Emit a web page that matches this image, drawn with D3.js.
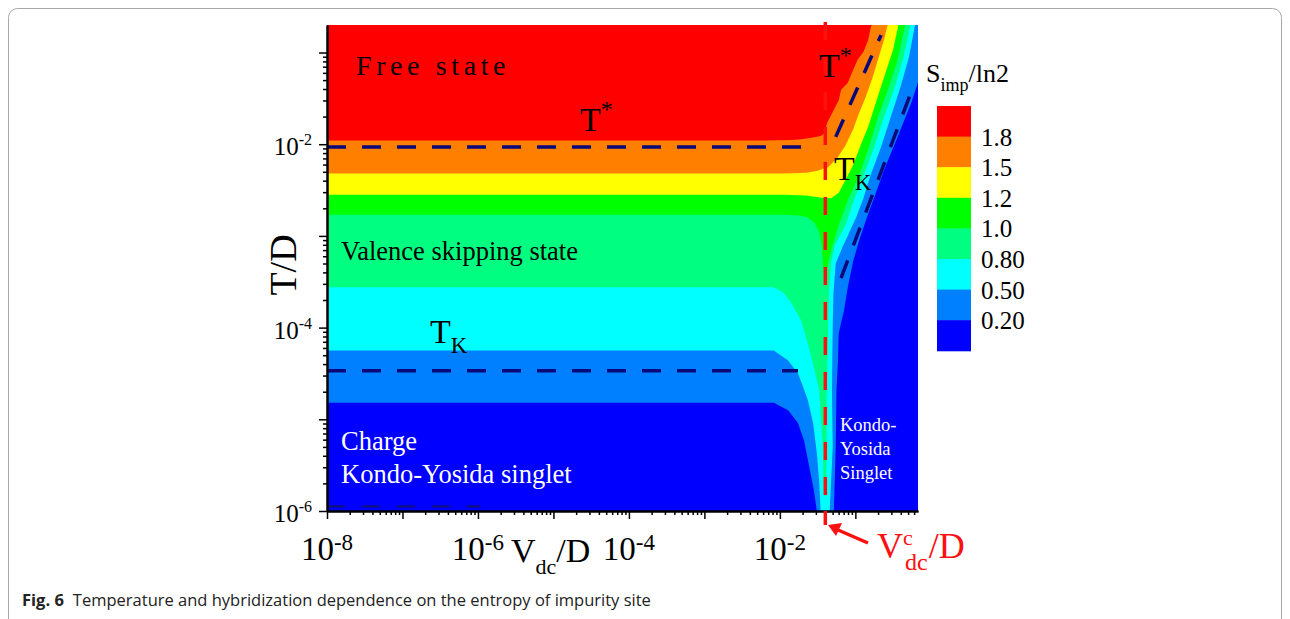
<!DOCTYPE html>
<html>
<head>
<meta charset="utf-8">
<script src="https://cdn.jsdelivr.net/npm/d3@7"></script>
<style>
  body { margin: 0; background: #fff; }
  svg { display: block; }
  .serif { font-family: "Liberation Serif", "Times New Roman", serif; }
</style>
</head>
<body>
<svg id="chart" width="1290" height="619"></svg>
<script>
// Impurity entropy S_imp/ln2 over the (V_dc/D, T/D) plane.
// Every contour is a list of [log10(V_dc/D), log10(T/D)] points; the region
// below / right of a contour has an entropy lower than its level.
const levels = [1.8, 1.5, 1.2, 1.0, 0.80, 0.50, 0.20];
const levelLabels = ["1.8", "1.5", "1.2", "1.0", "0.80", "0.50", "0.20"];
const bandColors = ["#ff0000", "#ff8000", "#ffff00", "#00ff00", "#00ff80", "#00ffff", "#0080ff", "#0000ff"];

const contour18 = [[-8.00,-1.96],[-2.20,-1.96],[-1.85,-1.955],[-1.72,-1.945],[-1.58,-1.93],[-1.46,-1.91],[-1.42,-1.89],[-1.37,-1.76],
  [-1.30,-1.65],[-1.22,-1.52],[-1.19,-1.41],[-1.10,-1.33],[-1.03,-1.19],[-0.97,-1.08],[-0.89,-0.99],[-0.83,-0.86],[-0.80,-0.74],[-0.77,-0.66]];
const contour15 = [[-8.00,-2.32],[-1.95,-2.32],[-1.65,-2.31],[-1.50,-2.29],[-1.42,-2.265],[-1.36,-2.25],[-1.30,-2.20],[-1.23,-2.14],
  [-1.13,-2.01],[-1.03,-1.84],[-0.95,-1.66],[-0.86,-1.48],[-0.77,-1.27],[-0.69,-1.05],[-0.62,-0.86],[-0.56,-0.66]];
const contour12 = [[-8.00,-2.55],[-1.95,-2.55],[-1.65,-2.56],[-1.45,-2.585],[-1.32,-2.59],[-1.22,-2.53],[-1.13,-2.39],[-1.03,-2.23],
  [-0.93,-2.01],[-0.83,-1.81],[-0.73,-1.55],[-0.62,-1.27],[-0.50,-0.97],[-0.42,-0.66]];
const contour10 = [[-8.00,-2.77],[-1.90,-2.77],[-1.72,-2.78],[-1.63,-2.80],[-1.54,-2.86],[-1.48,-2.96],[-1.445,-3.10],[-1.43,-3.30],
  [-1.41,-3.45],[-1.40,-3.50],[-1.38,-3.40],[-1.36,-3.29],[-1.30,-3.10],[-1.22,-2.88],[-1.10,-2.61],[-0.95,-2.34],[-0.82,-2.03],
  [-0.70,-1.70],[-0.57,-1.41],[-0.44,-1.08],[-0.33,-0.66]];
const contour08 = [[-8.00,-3.56],[-2.08,-3.56],[-1.95,-3.62],[-1.85,-3.73],[-1.72,-3.92],[-1.63,-4.17],[-1.55,-4.43],[-1.48,-4.68],
  [-1.46,-4.93],[-1.43,-5.30],[-1.42,-5.77],[-1.40,-5.85],[-1.39,-5.77],[-1.38,-5.30],[-1.38,-4.68],[-1.36,-3.99],[-1.35,-3.62],
  [-1.32,-3.28],[-1.27,-3.10],[-1.13,-2.88],[-1.02,-2.61],[-0.89,-2.34],[-0.75,-2.03],[-0.62,-1.70],[-0.49,-1.41],[-0.36,-1.05],[-0.26,-0.66]];
const contour05 = [[-8.00,-4.25],[-2.08,-4.25],[-1.89,-4.36],[-1.76,-4.50],[-1.70,-4.63],[-1.63,-4.79],[-1.56,-5.04],[-1.51,-5.37],
  [-1.48,-5.67],[-1.46,-6.00],[-1.34,-6.00],[-1.30,-5.30],[-1.31,-4.68],[-1.30,-3.99],[-1.29,-3.62],[-1.26,-3.30],[-1.17,-3.12],
  [-1.09,-2.98],[-0.99,-2.80],[-0.89,-2.58],[-0.80,-2.34],[-0.66,-2.03],[-0.53,-1.70],[-0.40,-1.37],[-0.29,-1.05],[-0.20,-0.66]];
const contour02 = [[-8.00,-4.82],[-2.08,-4.82],[-1.89,-4.90],[-1.76,-5.04],[-1.68,-5.23],[-1.62,-5.48],[-1.55,-5.77],[-1.51,-6.00],
  [-1.285,-6.00],[-1.26,-5.30],[-1.25,-4.68],[-1.23,-4.36],[-1.22,-4.06],[-1.15,-3.81],[-1.10,-3.56],[-1.03,-3.28],[-0.95,-3.05],
  [-0.86,-2.83],[-0.75,-2.58],[-0.62,-2.28],[-0.40,-1.84],[-0.26,-1.55],[-0.16,-1.30]];
const contours = [contour18, contour15, contour12, contour10, contour08, contour05, contour02];

// Crossover scales T* and T_K, and the critical bias V^c_dc/D
const tStarFlat = [[-8.00,-2.03],[-1.60,-2.03]];
const tStarRise = [[-1.26,-1.92],[-0.66,-0.81]];
const tKondoFlat = [[-8.00,-4.47],[-1.76,-4.47]];
const tKondoRise = [[-1.19,-3.46],[-0.26,-1.43]];
const lowEdge = [[-8.00,-5.95],[-5.97,-5.95]];
const vCritical = 0.04;

// Axis extents and tick labels
const vRange = [1e-8, Math.pow(10, -0.17)];
const tRange = [1e-6, Math.pow(10, -0.70)];
const xLabelExps = [-8, -6, -4, -2];
const yLabelExps = [-6, -4, -2];

const svg = d3.select("#chart");
const L = 327, R = 918, T = 25, B = 511;
const x = d3.scaleLog().domain(vRange).range([L, R]);
const y = d3.scaleLog().domain(tRange).range([B, T]);
const px = p => [x(Math.pow(10, p[0])), y(Math.pow(10, p[1]))];
const line = d3.line().x(p => px(p)[0]).y(p => px(p)[1]);
const xMaxLog = Math.log10(vRange[1]);
const yMinLog = Math.log10(tRange[0]);

// outer frame
svg.append("rect").attr("x", 8.5).attr("y", 8.5).attr("width", 1273).attr("height", 620)
  .attr("rx", 9).attr("fill", "none").attr("stroke", "#a8a8a8").attr("stroke-width", 1);

svg.append("clipPath").attr("id", "plotClip")
  .append("rect").attr("x", L).attr("y", T).attr("width", R - L).attr("height", B - T);

const plot = svg.append("g").attr("clip-path", "url(#plotClip)");
plot.append("rect").attr("x", L).attr("y", T).attr("width", R - L).attr("height", B - T).attr("fill", bandColors[0]);

contours.forEach((c, i) => {
  const last = c[c.length - 1];
  const poly = [[-8.2, yMinLog - 0.1], ...c, [xMaxLog + 0.1, last[1]], [xMaxLog + 0.1, yMinLog - 0.1]];
  plot.append("path").attr("d", line(poly) + "Z").attr("fill", bandColors[i + 1]);
});

// dashed crossover lines
[tStarFlat, tStarRise, tKondoFlat, tKondoRise].forEach(d => {
  svg.append("path").attr("d", line(d)).attr("fill", "none")
    .attr("stroke", "#08087a").attr("stroke-width", 3.5).attr("stroke-dasharray", "19,16");
});
svg.append("path").attr("d", line(lowEdge)).attr("fill", "none")
  .attr("stroke", "#101080").attr("stroke-width", 2.2).attr("stroke-dasharray", "18,17");

// critical bias marker
const xc = x(vCritical);
svg.append("line").attr("x1", xc).attr("x2", xc).attr("y1", 22).attr("y2", B)
  .attr("stroke", "#ff1010").attr("stroke-width", 3.5).attr("stroke-dasharray", "18,17");

// axes
function decadeTicks(lo, hi) {
  const major = [], minor = [];
  for (let e = Math.floor(Math.log10(lo)); e <= Math.ceil(Math.log10(hi)); e++) {
    for (let m = 1; m < 10; m++) {
      const v = m * Math.pow(10, e);
      if (v < lo * 0.999 || v > hi * 1.001) continue;
      (m === 1 ? major : minor).push(v);
    }
  }
  return { major, minor };
}
const xt = decadeTicks(vRange[0], vRange[1]);
const yt = decadeTicks(tRange[0], tRange[1]);

function styleAxis(g) {
  g.selectAll("text").remove();
  g.select(".domain").attr("stroke", "#000").attr("stroke-width", 2);
  g.selectAll(".tick line").attr("stroke", "#000").attr("stroke-width", 1.5);
}
svg.append("g").attr("transform", `translate(0,${B})`)
  .call(d3.axisBottom(x).tickValues(xt.minor).tickSize(4).tickSizeOuter(0)).call(styleAxis);
svg.append("g").attr("transform", `translate(0,${B})`)
  .call(d3.axisBottom(x).tickValues(xt.major).tickSize(8).tickSizeOuter(0)).call(styleAxis);
svg.append("g").attr("transform", `translate(${L},0)`)
  .call(d3.axisLeft(y).tickValues(yt.minor).tickSize(4).tickSizeOuter(0)).call(styleAxis);
svg.append("g").attr("transform", `translate(${L},0)`)
  .call(d3.axisLeft(y).tickValues(yt.major).tickSize(8).tickSizeOuter(0)).call(styleAxis);

// tick labels as powers of ten
xLabelExps.forEach(e => {
  const t = svg.append("text").attr("class", "serif").attr("x", x(Math.pow(10, e))).attr("y", 560)
    .attr("text-anchor", "middle").attr("font-size", 33).attr("fill", "#000");
  t.append("tspan").text("10");
  t.append("tspan").attr("font-size", 23).attr("dy", -10).text("-" + Math.abs(e));
});
yLabelExps.forEach(e => {
  const t = svg.append("text").attr("class", "serif").attr("x", 312).attr("y", y(Math.pow(10, e)) + 11)
    .attr("text-anchor", "end").attr("font-size", 25).attr("fill", "#000");
  t.append("tspan").text("10");
  t.append("tspan").attr("font-size", 16).attr("dy", -10).text("-" + Math.abs(e));
});

// axis titles
const xt1 = svg.append("text").attr("class", "serif").attr("x", 511).attr("y", 562)
  .attr("font-size", 34).attr("fill", "#000");
xt1.append("tspan").text("V");
xt1.append("tspan").attr("font-size", 22).attr("dy", 12).text("dc");
xt1.append("tspan").attr("dy", -12).text("/D");

svg.append("text").attr("class", "serif").attr("transform", "translate(296,265) rotate(-90)")
  .attr("text-anchor", "middle").attr("font-size", 38).attr("fill", "#000").text("T/D");

// critical bias label with arrow
svg.append("line").attr("x1", xc).attr("x2", xc).attr("y1", B).attr("y2", 525)
  .attr("stroke", "#ff1010").attr("stroke-width", 3.5);
svg.append("line").attr("x1", 868).attr("y1", 543).attr("x2", 838).attr("y2", 530)
  .attr("stroke", "#ff1010").attr("stroke-width", 3.5);
svg.append("path").attr("d", "M828,525 L842,523 L836,536 Z").attr("fill", "#ff1010");

const vx = 877, vy = 558;
const vMain = svg.append("text").attr("class", "serif").attr("x", vx).attr("y", vy)
  .attr("font-size", 36).attr("fill", "#ff1010").text("V");
const vw = vMain.node().getComputedTextLength();
svg.append("text").attr("class", "serif").attr("x", vx + vw).attr("y", vy - 13)
  .attr("font-size", 22).attr("fill", "#ff1010").text("c");
const sub = svg.append("text").attr("class", "serif").attr("x", vx + vw + 2).attr("y", vy + 12)
  .attr("font-size", 24).attr("fill", "#ff1010").text("dc");
const sw = sub.node().getComputedTextLength();
svg.append("text").attr("class", "serif").attr("x", vx + vw + 3 + sw).attr("y", vy)
  .attr("font-size", 36).attr("fill", "#ff1010").text("/D");

// region annotations
svg.append("text").attr("class", "serif").attr("x", 356).attr("y", 75)
  .attr("font-size", 28).attr("letter-spacing", 4.6).attr("fill", "#000").text("Free state");
svg.append("text").attr("class", "serif").attr("x", 341).attr("y", 260)
  .attr("font-size", 26.5).attr("fill", "#000").text("Valence skipping state");
svg.append("text").attr("class", "serif").attr("x", 341).attr("y", 450)
  .attr("font-size", 26.5).attr("fill", "#fff").text("Charge");
svg.append("text").attr("class", "serif").attr("x", 341).attr("y", 483)
  .attr("font-size", 26.5).attr("fill", "#fff").text("Kondo-Yosida singlet");
[["Kondo-", 431], ["Yosida", 455], ["Singlet", 479]].forEach(([s, yy]) => {
  svg.append("text").attr("class", "serif").attr("x", 840).attr("y", yy)
    .attr("font-size", 18.5).attr("fill", "#fff").text(s);
});

function scaleLabel(x0, y0, sym, script, sup) {
  const t = svg.append("text").attr("class", "serif").attr("x", x0).attr("y", y0)
    .attr("font-size", 34).attr("fill", "#000");
  t.append("tspan").text(sym);
  if (sup) t.append("tspan").attr("font-size", 24).attr("dy", -14).text(script);
  else t.append("tspan").attr("font-size", 23).attr("dy", 10).text(script);
}
scaleLabel(580, 131, "T", "*", true);
scaleLabel(819, 77, "T", "*", true);
scaleLabel(430, 343, "T", "K", false);
scaleLabel(834, 180, "T", "K", false);

// colour bar
const cbX = 937, cbW = 34, cbTop = 106, cbH = 30.6;
const cbY = d3.scaleLinear().domain([0, bandColors.length]).range([cbTop, cbTop + cbH * bandColors.length]);
svg.append("g").selectAll("rect").data(bandColors).join("rect")
  .attr("x", cbX).attr("y", (d, i) => cbY(i)).attr("width", cbW).attr("height", cbH + 0.5).attr("fill", d => d);
svg.append("g").selectAll("text").data(levelLabels).join("text")
  .attr("class", "serif").attr("x", 981).attr("y", (d, i) => cbY(i + 1) + 9)
  .attr("font-size", 25).attr("fill", "#000").text(d => d);
const cbt = svg.append("text").attr("class", "serif").attr("x", 926).attr("y", 82)
  .attr("font-size", 26).attr("fill", "#000");
cbt.append("tspan").text("S");
cbt.append("tspan").attr("font-size", 18).attr("dy", 9).text("imp");
cbt.append("tspan").attr("dy", -9).text("/ln2");

// caption
const cap = svg.append("text").attr("x", 22).attr("y", 606)
  .attr("font-family", "'Open Sans', 'Noto Sans', sans-serif").attr("font-size", 16.5).attr("fill", "#222");
cap.append("tspan").attr("font-weight", "bold").text("Fig. 6");
cap.append("tspan").attr("dx", 9).text("Temperature and hybridization dependence on the entropy of impurity site");
</script>
</body>
</html>
